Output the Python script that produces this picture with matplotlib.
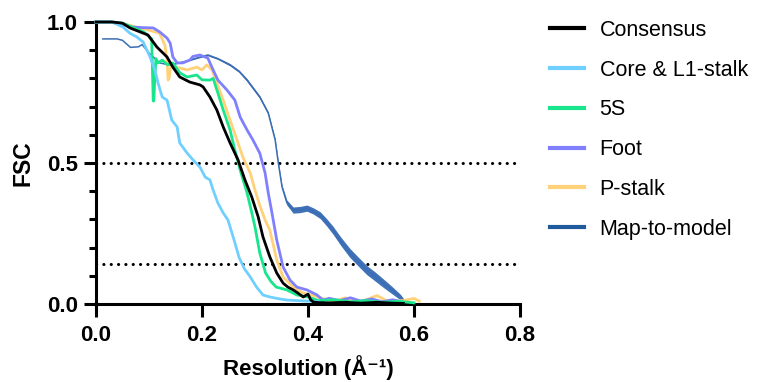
import numpy as np
import matplotlib
matplotlib.use('Agg')
import matplotlib.pyplot as plt

plt.rcParams['font.family'] = ['Liberation Sans', 'DejaVu Sans']

# resolution (1/A) and FSC values
cons_x = [0.0, 0.03, 0.05, 0.064, 0.083, 0.098, 0.115, 0.134, 0.145, 0.158, 0.177, 0.196, 0.202,
          0.215, 0.228, 0.24, 0.253, 0.268, 0.281, 0.294, 0.306, 0.315, 0.328, 0.341, 0.353,
          0.362, 0.372, 0.38, 0.391, 0.40, 0.405, 0.41, 0.42, 0.44, 0.47, 0.50, 0.53, 0.56, 0.58]
cons_y = [1.0, 1.0, 0.996, 0.979, 0.965, 0.954, 0.911, 0.876, 0.84, 0.805, 0.787, 0.777, 0.77,
          0.734, 0.688, 0.628, 0.571, 0.511, 0.44, 0.379, 0.309, 0.238, 0.167, 0.11, 0.074,
          0.06, 0.05, 0.04, 0.025, 0.035, 0.015, 0.007, 0.005, 0.004, 0.006, 0.003, 0.006, 0.003, 0.002]

core_x = [0.0, 0.03, 0.051, 0.064, 0.077, 0.089, 0.102, 0.111, 0.117, 0.125, 0.134, 0.143, 0.153,
          0.158, 0.172, 0.183, 0.196, 0.206, 0.215, 0.221, 0.23, 0.24, 0.249, 0.26, 0.27, 0.28,
          0.291, 0.303, 0.315, 0.328, 0.341, 0.36, 0.38, 0.40, 0.42]
core_y = [1.0, 1.0, 0.982, 0.96, 0.947, 0.929, 0.876, 0.83, 0.784, 0.734, 0.723, 0.652, 0.628,
          0.571, 0.535, 0.511, 0.486, 0.45, 0.44, 0.404, 0.358, 0.323, 0.298, 0.23, 0.165, 0.125,
          0.096, 0.06, 0.032, 0.025, 0.02, 0.014, 0.012, 0.01, 0.008]

s5_x = [0.0, 0.03, 0.05, 0.058, 0.07, 0.09, 0.105, 0.108, 0.109, 0.111, 0.113, 0.117, 0.125, 0.135,
        0.145, 0.158, 0.172, 0.19, 0.2, 0.215, 0.221, 0.23, 0.24, 0.253, 0.262, 0.272, 0.285,
        0.294, 0.3, 0.309, 0.32, 0.33, 0.34, 0.36, 0.379, 0.40, 0.42, 0.45, 0.48, 0.51, 0.54,
        0.57, 0.60]
s5_y = [1.0, 1.0, 0.995, 0.99, 0.98, 0.965, 0.94, 0.72, 0.72, 0.80, 0.87, 0.855, 0.865, 0.848,
        0.855, 0.82, 0.805, 0.812, 0.795, 0.794, 0.80, 0.748, 0.688, 0.617, 0.546, 0.475, 0.394,
        0.323, 0.273, 0.181, 0.11, 0.08, 0.06, 0.05, 0.032, 0.025, 0.012, 0.015, 0.008, 0.012,
        0.006, 0.01, 0.004]

foot_x = [0.0, 0.03, 0.051, 0.07, 0.089, 0.108, 0.12, 0.134, 0.14, 0.145, 0.153, 0.164, 0.177,
          0.183, 0.196, 0.211, 0.221, 0.23, 0.247, 0.262, 0.272, 0.285, 0.296, 0.309, 0.319,
          0.325, 0.332, 0.341, 0.353, 0.366, 0.379, 0.398, 0.417, 0.428, 0.44, 0.46, 0.48,
          0.50, 0.52, 0.54, 0.56, 0.58]
foot_y = [1.0, 1.0, 0.99, 0.982, 0.98, 0.979, 0.965, 0.943, 0.925, 0.876, 0.855, 0.855, 0.865,
          0.878, 0.883, 0.872, 0.83, 0.794, 0.759, 0.723, 0.663, 0.617, 0.582, 0.535, 0.465,
          0.394, 0.323, 0.227, 0.131, 0.085, 0.06, 0.05, 0.032, 0.014, 0.02, 0.012, 0.022, 0.01,
          0.018, 0.008, 0.015, 0.006]

pst_x = [0.0, 0.03, 0.05, 0.08, 0.102, 0.12, 0.13, 0.134, 0.136, 0.138, 0.141, 0.145, 0.158,
         0.172, 0.19, 0.2, 0.209, 0.219, 0.228, 0.24, 0.253, 0.266, 0.277, 0.291, 0.3, 0.309,
         0.319, 0.328, 0.341, 0.353, 0.372, 0.391, 0.41, 0.43, 0.45, 0.47, 0.49, 0.51, 0.53,
         0.55, 0.58, 0.60, 0.61]
pst_y = [1.0, 1.0, 0.995, 0.98, 0.97, 0.96, 0.918, 0.865, 0.794, 0.80, 0.845, 0.84, 0.837,
         0.83, 0.84, 0.83, 0.848, 0.83, 0.784, 0.723, 0.652, 0.582, 0.521, 0.465, 0.404, 0.35,
         0.298, 0.262, 0.156, 0.096, 0.06, 0.039, 0.03, 0.018, 0.01, 0.022, 0.008, 0.015, 0.03,
         0.01, 0.012, 0.02, 0.01]

mtm_x = [0.013, 0.04, 0.05, 0.065, 0.08, 0.087, 0.1, 0.12, 0.14, 0.158, 0.177, 0.195, 0.211,
         0.23, 0.253, 0.27, 0.285, 0.309, 0.325, 0.338, 0.344, 0.351, 0.36, 0.372, 0.385,
         0.398, 0.41, 0.423, 0.435, 0.447, 0.462, 0.479, 0.495, 0.511, 0.527, 0.542, 0.558,
         0.574, 0.587]
mtm_y = [0.94, 0.94, 0.935, 0.91, 0.912, 0.92, 0.89, 0.855, 0.847, 0.855, 0.865, 0.875, 0.883,
         0.87, 0.848, 0.825, 0.794, 0.734, 0.677, 0.582, 0.5, 0.415, 0.36, 0.333, 0.335,
         0.34, 0.33, 0.315, 0.29, 0.262, 0.222, 0.181, 0.15, 0.12, 0.097, 0.074, 0.05,
         0.025, 0.0]
# half width of the noisy band around the map-to-model curve
mtm_noise = [0.0, 0.0, 0.0, 0.0, 0.0, 0.0, 0.0, 0.0, 0.0, 0.0, 0.002, 0.002, 0.003,
             0.003, 0.004, 0.004, 0.005, 0.005, 0.005, 0.005, 0.005, 0.006, 0.009, 0.011, 0.011,
             0.011, 0.011, 0.012, 0.013, 0.014, 0.015, 0.016, 0.016, 0.016, 0.016, 0.015, 0.013,
             0.01, 0.003]

fig = plt.figure(figsize=(7.58, 3.82), dpi=100)
ax = fig.add_axes([96 / 758, 78 / 382, 424 / 758, 282 / 382])

lo = np.array(mtm_y) - np.array(mtm_noise)
hi = np.array(mtm_y) + np.array(mtm_noise)
ax.fill_between(mtm_x, lo, hi, color='#3f72b8', lw=0, zorder=2)
ax.plot(mtm_x, mtm_y, color='#3a6db3', lw=1.1, zorder=2, label='Map-to-model')
ax.plot(pst_x, pst_y, color='#ffd27a', lw=2.0, zorder=3, label='P-stalk')
ax.plot(foot_x, foot_y, color='#8080ff', lw=2.0, zorder=4, label='Foot')
ax.plot(s5_x, s5_y, color='#19e68c', lw=2.0, zorder=5, label='5S')
ax.plot(core_x, core_y, color='#6fd0ff', lw=2.0, zorder=6, label='Core & L1-stalk')
ax.plot(cons_x, cons_y, color='black', lw=2.0, zorder=7, label='Consensus')

for thr in [0.5, 0.143]:
    ax.plot([0, 0.8], [thr, thr], color='black', lw=2.2, ls=(0, (0.05, 2.35)),
            dash_capstyle='round', zorder=1)

for ln in ax.lines:
    ln.set_clip_on(False)

ax.set_xlim(0, 0.8)
ax.set_ylim(0, 1.0)
ax.spines['top'].set_visible(False)
ax.spines['right'].set_visible(False)
for s in ['left', 'bottom']:
    ax.spines[s].set_linewidth(2.2)
ax.set_xticks([0, 0.2, 0.4, 0.6, 0.8])
ax.set_yticks([0, 0.5, 1.0])
ax.set_yticks(np.arange(0.1, 1.0, 0.1), minor=True)
ax.xaxis.set_major_formatter(matplotlib.ticker.FormatStrFormatter('%.1f'))
ax.yaxis.set_major_formatter(matplotlib.ticker.FormatStrFormatter('%.1f'))
ax.tick_params(axis='both', which='major', length=9, width=2.2, labelsize=16, pad=4)
ax.tick_params(axis='x', which='major', pad=6)
ax.tick_params(axis='y', which='minor', length=5, width=2.2)
for t in ax.get_xticklabels() + ax.get_yticklabels():
    t.set_fontweight('bold')

fig.text(308 / 758, 1 - 375 / 382, 'Resolution (Å⁻¹)', fontsize=16,
         fontweight='bold', ha='center', va='baseline')
ax.set_ylabel('FSC', fontsize=16.5, fontweight='bold', labelpad=9)

handles, labels = ax.get_legend_handles_labels()
order = [5, 4, 3, 2, 1, 0]
leg = fig.legend([handles[i] for i in order], [labels[i] for i in order],
                 loc='upper left', bbox_to_anchor=(550 / 758, 1 - 20 / 382),
                 frameon=False, fontsize=15.5, handlelength=1.6, handletextpad=0.7,
                 labelspacing=0.87, borderpad=0, borderaxespad=0)
for h in leg.get_lines():
    h.set_linewidth(3)
leg.get_lines()[5].set_color('#1f5a9c')

fig.savefig('out.png', dpi=100)
